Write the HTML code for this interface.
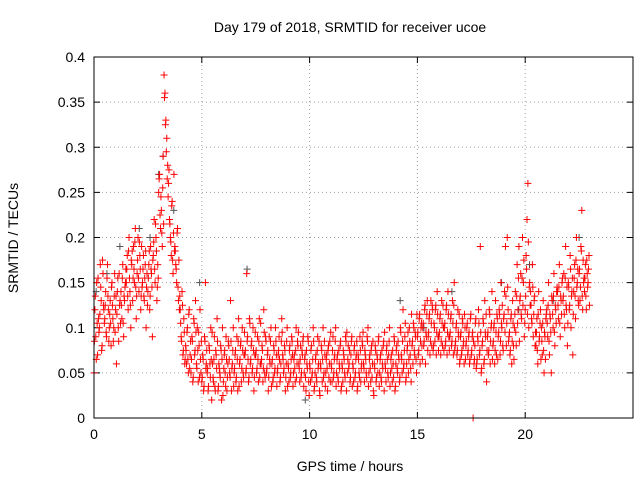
<!DOCTYPE html>
<html><head><meta charset="utf-8"><style>
html,body{margin:0;padding:0;background:#fff;}
svg{display:block;font-family:"Liberation Sans",sans-serif;}
</style></head><body>
<svg id="chart" width="640" height="480" viewBox="0 0 640 480">
<text x="350" y="32" font-size="14" text-anchor="middle">Day 179 of 2018, SRMTID for receiver ucoe</text>
<text x="350" y="471" font-size="14" text-anchor="middle">GPS time / hours</text>
<text x="18" y="238" font-size="14" text-anchor="middle" transform="rotate(-90 18 238)">SRMTID / TECUs</text>
<g id="grid"></g><g id="axes"></g><g id="greys"></g><g id="reds"></g>
<rect x="94" y="57" width="539" height="361" fill="none" stroke="#000"/>
</svg>
<script>
const xTicks=[0,5,10,15,20];
const yTicks=[0,0.05,0.1,0.15,0.2,0.25,0.3,0.35,0.4];
const yTickLabels=["0","0.05","0.1","0.15","0.2","0.25","0.3","0.35","0.4"];
const redHours=[0,0.25,0.5,0.75,1,1.25,1.5,1.75,2,2.25,2.5,2.75,3,3.25,3.5,3.75,4,4.25,4.5,4.75,5,5.25,5.5,5.75,6,6.25,6.5,6.75,7,7.25,7.5,7.75,8,8.25,8.5,8.75,9,9.25,9.5,9.75,10,10.25,10.5,10.75,11,11.25,11.5,11.75,12,12.25,12.5,12.75,13,13.25,13.5,13.75,14,14.25,14.5,14.75,15,15.25,15.5,15.75,16,16.25,16.5,16.75,17,17.25,17.5,17.75,18,18.25,18.5,18.75,19,19.25,19.5,19.75,20,20.25,20.5,20.75,21,21.25,21.5,21.75,22,22.25,22.5,22.75];
const redValues=[
[.05,.12,.09,.15,.07,.11],[.10,.17,.13,.08,.16,.12],[.11,.14,.09,.17,.12,.10],[.13,.08,.15,.11,.10,.16],
[.12,.06,.14,.10,.16,.13],[.14,.11,.17,.09,.13,.15],[.15,.18,.12,.20,.14,.10],[.17,.13,.19,.15,.21,.11],
[.16,.20,.14,.18,.12,.19],[.15,.18,.13,.17,.10,.16],[.14,.17,.12,.19,.16,.09],[.18,.22,.15,.20,.13,.17],
[.25,.27,.21,.23,.19,.29],[.38,.36,.33,.31,.28,.26],[.22,.20,.18,.24,.16,.27],[.19,.17,.15,.21,.13,.12],
[.12,.09,.14,.07,.11,.06],[.08,.06,.10,.05,.12,.07],[.05,.09,.04,.11,.07,.13],[.06,.10,.04,.08,.12,.05],
[.04,.07,.03,.09,.15,.06],[.05,.03,.08,.06,.10,.02],[.06,.04,.09,.03,.07,.11],[.03,.06,.05,.08,.02,.10],
[.04,.07,.05,.09,.03,.06],[.08,.05,.13,.03,.06,.10],[.05,.07,.04,.09,.03,.11],[.06,.08,.04,.10,.05,.07],
[.07,.05,.16,.09,.04,.11],[.06,.08,.05,.10,.03,.07],[.07,.05,.09,.04,.11,.06],[.06,.08,.04,.12,.05,.09],
[.05,.07,.03,.09,.06,.10],[.06,.04,.08,.05,.10,.07],[.05,.07,.09,.04,.06,.11],[.07,.05,.08,.03,.06,.10],
[.06,.04,.08,.05,.09,.07],[.05,.07,.04,.10,.06,.08],[.06,.04,.08,.05,.07,.09],[.05,.07,.03,.06,.09,.04],
[.06,.04,.08,.05,.10,.03],[.05,.07,.04,.09,.06,.03],[.06,.08,.04,.10,.05,.07],[.05,.07,.03,.08,.06,.04],
[.06,.04,.09,.05,.07,.10],[.05,.07,.04,.06,.08,.03],[.06,.04,.07,.05,.09,.03],[.05,.08,.06,.04,.07,.09],
[.06,.04,.08,.05,.07,.03],[.07,.05,.09,.04,.06,.08],[.06,.04,.07,.05,.09,.10],[.05,.07,.04,.08,.06,.03],
[.06,.08,.04,.07,.05,.09],[.05,.07,.04,.06,.08,.03],[.06,.04,.08,.05,.07,.10],[.05,.07,.04,.06,.09,.03],
[.06,.08,.05,.07,.04,.10],[.07,.05,.12,.06,.09,.04],[.06,.08,.05,.10,.07,.04],[.08,.06,.10,.07,.09,.05],
[.09,.07,.11,.06,.10,.08],[.10,.08,.12,.06,.09,.13],[.09,.11,.07,.13,.08,.12],[.08,.10,.12,.07,.14,.09],
[.09,.11,.07,.13,.08,.10],[.10,.08,.12,.07,.14,.09],[.09,.11,.08,.13,.07,.15],[.08,.10,.07,.12,.09,.06],
[.09,.07,.11,.08,.06,.10],[.08,.10,.07,.09,.06,.11],[.07,.09,.00,.06,.08,.11],[.06,.09,.12,.07,.19,.05],
[.08,.11,.06,.13,.09,.04],[.09,.07,.12,.06,.10,.14],[.08,.10,.06,.13,.07,.11],[.09,.12,.07,.15,.10,.08],
[.11,.14,.19,.08,.20,.12],[.09,.07,.11,.06,.13,.08],[.10,.14,.08,.17,.12,.19],[.13,.16,.11,.20,.15,.09],
[.12,.18,.22,.26,.10,.15],[.14,.11,.17,.09,.13,.08],[.08,.11,.06,.14,.09,.12],[.10,.07,.13,.05,.09,.11],
[.12,.09,.15,.07,.11,.05],[.13,.10,.16,.08,.12,.14],[.14,.11,.17,.09,.13,.15],[.13,.16,.10,.19,.12,.08],
[.15,.12,.18,.10,.14,.07],[.14,.17,.11,.20,.15,.13],[.16,.13,.19,.23,.12,.15],[.14,.17,.12,.16,.15,.18]];
const redValues2=[
[.085,.135,.065,.105,.155,.095],[.115,.145,.075,.175,.125,.105],[.125,.095,.155,.135,.085,.115],[.105,.145,.125,.085,.135,.095],
[.135,.115,.155,.085,.125,.105],[.125,.155,.105,.135,.145,.165],[.165,.135,.185,.155,.125,.175],[.185,.155,.165,.195,.145,.135],
[.175,.155,.195,.165,.135,.145],[.165,.135,.155,.185,.145,.125],[.155,.185,.135,.165,.145,.175],[.195,.165,.215,.185,.145,.155],
[.265,.225,.245,.205,.255,.215],[.355,.325,.295,.265,.245,.275],[.215,.195,.235,.175,.205,.185],[.185,.165,.205,.145,.175,.135],
[.105,.085,.125,.075,.095,.065],[.075,.095,.065,.115,.055,.085],[.065,.085,.045,.105,.075,.095],[.055,.075,.095,.045,.065,.085],
[.045,.065,.035,.085,.055,.075],[.055,.035,.075,.045,.065,.095],[.045,.065,.035,.075,.055,.085],[.035,.055,.045,.075,.065,.025],
[.055,.075,.035,.065,.045,.085],[.065,.045,.085,.055,.075,.035],[.055,.075,.045,.065,.085,.035],[.065,.085,.055,.075,.045,.095],
[.075,.055,.085,.065,.045,.105],[.065,.085,.055,.075,.045,.095],[.075,.055,.065,.085,.045,.105],[.065,.075,.055,.095,.045,.085],
[.055,.075,.045,.065,.085,.035],[.065,.045,.075,.055,.085,.035],[.055,.075,.065,.045,.085,.095],[.065,.055,.075,.045,.085,.035],
[.055,.075,.045,.065,.085,.035],[.065,.055,.075,.045,.085,.095],[.055,.065,.045,.075,.085,.035],[.065,.045,.075,.055,.085,.025],
[.055,.075,.045,.065,.085,.035],[.065,.045,.075,.055,.085,.025],[.055,.075,.065,.045,.085,.035],[.065,.055,.075,.045,.085,.095],
[.055,.075,.045,.065,.085,.035],[.065,.045,.075,.055,.085,.035],[.055,.075,.065,.045,.085,.095],[.065,.055,.075,.045,.085,.035],
[.055,.075,.045,.065,.085,.035],[.065,.045,.075,.055,.085,.095],[.055,.075,.065,.045,.085,.035],[.065,.055,.075,.045,.085,.025],
[.055,.075,.045,.065,.085,.035],[.065,.045,.075,.055,.085,.095],[.055,.075,.065,.045,.085,.035],[.065,.055,.075,.045,.085,.035],
[.075,.055,.085,.065,.045,.095],[.065,.085,.055,.075,.105,.045],[.075,.095,.065,.085,.055,.115],[.085,.105,.075,.095,.065,.115],
[.095,.075,.115,.085,.105,.065],[.105,.085,.125,.095,.115,.075],[.095,.115,.085,.105,.125,.075],[.105,.085,.125,.095,.115,.075],
[.095,.115,.085,.105,.125,.075],[.105,.085,.125,.095,.115,.075],[.095,.115,.085,.105,.125,.075],[.085,.105,.075,.095,.115,.065],
[.095,.075,.105,.085,.115,.065],[.085,.105,.075,.095,.065,.115],[.075,.095,.085,.065,.105,.055],[.065,.085,.105,.075,.095,.055],
[.085,.105,.065,.095,.115,.075],[.095,.075,.115,.085,.105,.065],[.085,.105,.075,.095,.115,.065],[.095,.115,.085,.105,.125,.075],
[.115,.095,.135,.105,.145,.085],[.095,.075,.115,.085,.105,.065],[.115,.095,.135,.105,.155,.085],[.135,.115,.155,.125,.175,.105],
[.135,.165,.115,.195,.145,.125],[.125,.105,.145,.115,.135,.095],[.095,.075,.115,.085,.105,.065],[.085,.105,.075,.095,.065,.115],
[.105,.125,.085,.115,.095,.135],[.115,.135,.095,.125,.105,.145],[.125,.145,.105,.135,.115,.155],[.135,.115,.155,.125,.145,.105],
[.145,.125,.165,.135,.155,.115],[.155,.135,.175,.145,.165,.125],[.165,.145,.185,.135,.175,.155],[.155,.135,.175,.145,.165,.125]];
const greyHours=[0.1,1.2,2.1,3.2,3.7,4.9,7.1,9.8,14.2,16.6,20.2,22.5,0.6,18.9,3.0,2.6,15.3,19.7,21.3];
const greyValues=[0.14,0.19,0.21,0.29,0.23,0.15,0.165,0.02,0.13,0.14,0.17,0.2,0.16,0.15,0.27,0.2,0.1,0.12,0.13];

const NS="http://www.w3.org/2000/svg";
const L=94,R=633,T=57,B=418,XMAX=25,YMAX=0.4;
const sx=h=>L+(R-L)*h/XMAX;
const sy=v=>B-(B-T)*v/YMAX;
const grid=document.getElementById('grid'),axes=document.getElementById('axes');
function mk(tag,attrs,parent){const e=document.createElementNS(NS,tag);for(const k in attrs)e.setAttribute(k,attrs[k]);parent.appendChild(e);return e;}
xTicks.forEach(t=>{
  const x=sx(t);
  if(t>0){const g=mk('line',{x1:x,x2:x,y1:T,y2:B,stroke:'#a0a0a0','stroke-dasharray':'1,3'},grid);
  
  }
  const tk=mk('path',{d:`M${x} ${B}v-6M${x} ${T}v6`,stroke:'#000'},axes);
  
  
  const lb=mk('text',{x:x,y:B+21,'font-size':14,'text-anchor':'middle'},axes);lb.textContent=t;
  
  
});
yTicks.forEach((t,i)=>{
  const y=sy(t);
  if(t>0&&t<YMAX){const g=mk('line',{x1:L,x2:R,y1:y,y2:y,stroke:'#a0a0a0','stroke-dasharray':'1,3'},grid);
  
  }
  const tk=mk('path',{d:`M${L} ${y}h6M${R} ${y}h-6`,stroke:'#000'},axes);
  
  
  const lb=mk('text',{x:L-9,y:y+5,'font-size':14,'text-anchor':'end'},axes);lb.textContent=yTickLabels[i];
  
  
});
function plus(x,y){return `M${x-3.5} ${y}h7M${x} ${y-3.5}v7`;}
let gd='';greyHours.forEach((h,i)=>{gd+=plus(sx(h),sy(greyValues[i]));});
const gp=mk('path',{d:gd,stroke:'#555',fill:'none','stroke-width':1},document.getElementById('greys'));


let rd='';
redHours.forEach((h,i)=>{
  const row=redValues[i];row.forEach((v,j)=>{rd+=plus(sx(h+0.25*j/row.length),sy(v));});
  const row2=redValues2[i];row2.forEach((v,j)=>{rd+=plus(sx(h+0.25*(j+0.5)/row2.length),sy(v));});
});
const rp=mk('path',{d:rd,stroke:'#ff0000',fill:'none','stroke-width':1},document.getElementById('reds'));


</script>
</body></html>
